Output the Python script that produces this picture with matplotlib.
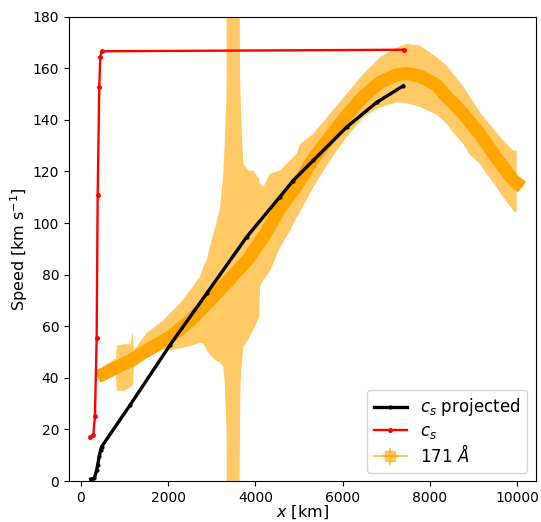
# Sound speed vs distance along the loop, compared with the 171 A speeds
import matplotlib.pyplot as plt

# c_s projected (black)
x_proj = [229, 312, 366, 389, 426, 458, 480, 1129, 2045, 2885, 3801, 4564, 4868, 5327, 6091, 6778, 7388]
cs_proj = [0.7, 1.0, 4.3, 6.2, 9.7, 12.0, 13.3, 29.4, 52.7, 72.7, 94.6, 110.2, 116.5, 124.3, 137.2, 146.8, 153.2]

# c_s (red)
x_cs = [222, 289, 327, 366, 389, 426, 449, 481, 7410]
cs = [16.9, 17.8, 25.3, 55.6, 110.7, 152.9, 164.3, 166.6, 167.2]

# 171 A speed, centre values
x_171 = [520, 1130, 1500, 2050, 2500, 2890, 3400, 3800, 4200, 4560, 4950, 5330, 5710,
         6090, 6470, 6850, 7240, 7470, 7770, 8150, 8380, 8760, 9140, 9530, 9910, 9990]
v_171 = [41.5, 46.6, 50.5, 55.9, 62.0, 68.8, 78.0, 85.3, 95.0, 105.5, 114.6, 125.0, 133.4,
         141.7, 149.0, 154.5, 157.5, 158.0, 157.0, 153.5, 149.0, 142.4, 134.5, 125.0, 116.5, 115.5]

# 171 A speed, lower / upper error envelope
x_err = [520, 810, 825, 1000, 1150, 1185, 1205, 1215, 1500, 1890, 2045, 2270, 2500, 2730,
         2810, 2885, 2960, 3040, 3115, 3190, 3265, 3300, 3340, 3350, 3630, 3648, 3660, 3690,
         3725, 3840, 3950, 4090, 4106, 4182, 4335, 4564, 4793, 4946, 5030, 5327, 5709, 6091,
         6472, 6853, 7236, 7465, 7770, 8152, 8381, 8533, 8761, 8914, 9144, 9297, 9526, 9677,
         9907, 9984]
lo_171 = [38.5, 41.5, 35.0, 35.0, 36.5, 37.0, 37.5, 44.0, 47.5, 51.0, 50.7, 51.4, 52.4, 53.5,
          53.3, 50.7, 49.0, 47.5, 46.5, 46.0, 44.3, 38.0, 20.0, -20.0, -20.0, 20.0, 37.8, 45.6,
          52.0, 55.0, 58.5, 63.6, 75.2, 77.8, 81.5, 90.5, 97.0, 102.3, 104.5, 113.9, 124.3, 133.3,
          141.0, 144.9, 146.8, 146.5, 145.0, 142.0, 138.5, 135.0, 130.7, 126.5, 123.0, 119.0, 113.9, 110.0,
          104.9, 104.0]
hi_171 = [44.5, 47.5, 52.5, 53.0, 53.0, 58.0, 54.6, 50.5, 57.2, 62.3, 65.0, 68.8, 73.9, 79.1,
          83.0, 85.6, 90.7, 96.0, 100.5, 106.0, 118.0, 132.0, 149.0, 250.0, 250.0, 157.8, 150.0, 135.0,
          123.0, 120.4, 120.4, 117.0, 115.3, 114.0, 119.1, 120.4, 124.3, 126.9, 130.7, 134.6, 142.4, 150.1,
          157.8, 164.3, 168.1, 169.4, 168.8, 164.3, 161.0, 157.8, 153.0, 148.8, 143.0, 139.8, 135.0, 132.0,
          128.1, 128.0]

fig = plt.figure(figsize=(5.41, 5.22), dpi=100)
ax = fig.add_axes([0.1275, 0.0785, 0.8627, 0.8895])

# 171 A band + centre
ax.fill_between(x_err, lo_171, hi_171, color='orange', alpha=0.6, lw=0)
ax.plot(x_171, v_171, color='orange', lw=9.4, solid_capstyle='projecting')
h171 = ax.errorbar([], [], yerr=[], xerr=[], fmt='-s', color='orange', alpha=0.6, ms=7)

# sound speeds
h_proj, = ax.plot(x_proj, cs_proj, color='black', marker='.', ms=4, lw=2.4)
h_cs, = ax.plot(x_cs, cs, color='red', marker='.', ms=5, lw=1.7)

ax.set_xlim(-268, 10420)
ax.set_ylim(0, 180)
ax.set_yticks(range(0, 181, 20))
ax.tick_params(labelsize=10)
ax.set_xlabel(r'$x$ [km]', fontsize=11.5, labelpad=-1)
ax.set_ylabel(r'Speed [km s$^{-1}$]', fontsize=11.5, labelpad=2)
ax.legend([h_proj, h_cs, h171], [r'$c_s$ projected', r'$c_s$', r'171 $\AA$'],
          loc='lower right', fontsize=12, labelspacing=0.2)

plt.savefig('out.png', dpi=100)
